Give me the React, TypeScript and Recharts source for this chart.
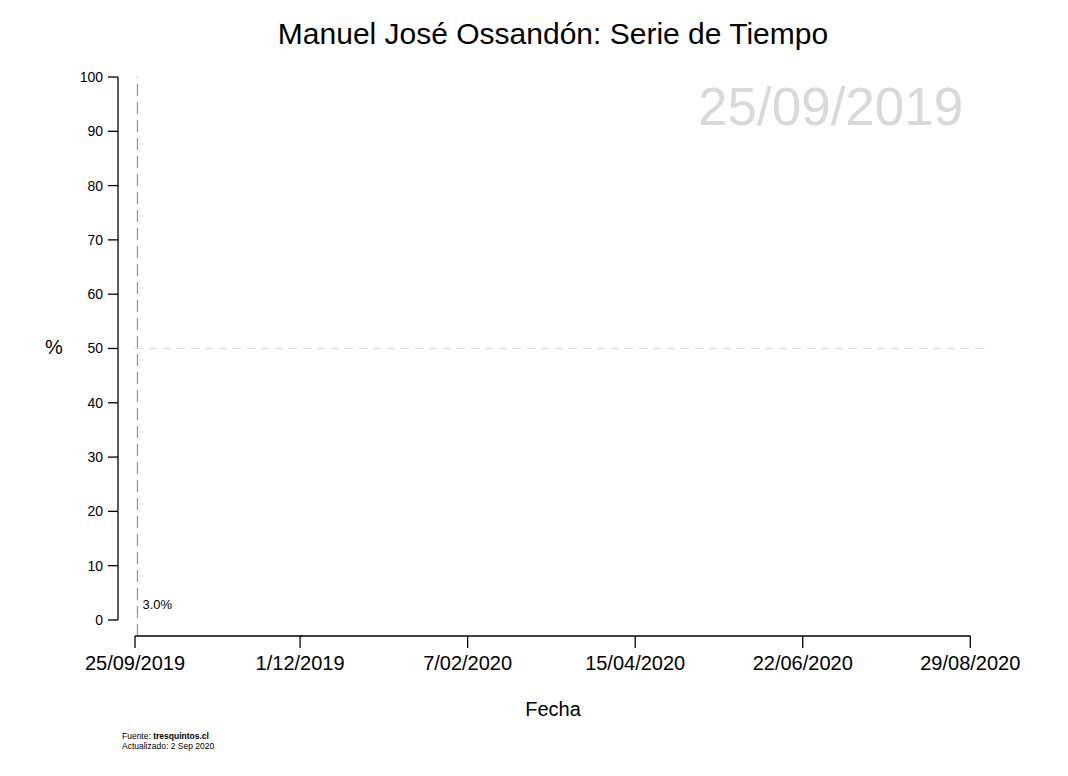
import { LineChart, Line, XAxis, YAxis, ReferenceLine, LabelList } from "recharts"

const dayNumbers = [1]
const pctValues = [3.0]
const xTicks = [0, 67, 135, 203, 271, 339]
const xTickLabels = ["25/09/2019", "1/12/2019", "7/02/2020", "15/04/2020", "22/06/2020", "29/08/2020"]
const yTicks = [0, 10, 20, 30, 40, 50, 60, 70, 80, 90, 100]

const data = dayNumbers.map((d, i) => ({ day: d, pct: pctValues[i] }))

const FONT = "'Liberation Sans', Arial, sans-serif"
const PX_PER_DAY = (990 - 135) / 347
const PX_PER_UNIT = (636 - 77) / 102.95

function XTick({ x, y, index }: any) {
  const last = index === xTicks.length - 1
  return (
    <g>
      {!last && <line x1={x} x2={x + 68 * PX_PER_DAY} y1={y} y2={y} stroke="#000" strokeWidth={1.3} />}
      <line x1={x} x2={x} y1={y} y2={y + 12} stroke="#000" strokeWidth={1.3} />
      <text x={x} y={y + 34} textAnchor="middle" fontSize={20} fontFamily={FONT} fill="#000">
        {xTickLabels[index]}
      </text>
    </g>
  )
}

function YTick({ x, y, payload }: any) {
  const lx = x - 17
  return (
    <g>
      {payload.value < 100 && (
        <line x1={lx} x2={lx} y1={y} y2={y - 10 * PX_PER_UNIT} stroke="#000" strokeWidth={1.3} />
      )}
      <line x1={lx - 10} x2={lx} y1={y} y2={y} stroke="#000" strokeWidth={1.3} />
      <text x={lx - 15} y={y + 5} textAnchor="end" fontSize={14} fontFamily={FONT} fill="#000">
        {payload.value}
      </text>
    </g>
  )
}

export default function App() {
  return (
    <div style={{ margin: -8, width: 1068, height: 776, position: "relative", background: "#fff", fontFamily: FONT }}>
      <div style={{ position: "absolute", left: 0, width: 1106, top: 17, textAlign: "center", fontSize: 30 }}>
        Manuel José Ossandón: Serie de Tiempo
      </div>
      <div style={{ position: "absolute", left: 698, top: 76, fontSize: 53, color: "#d9d9d9" }}>25/09/2019</div>
      <div style={{ position: "absolute", left: 45, top: 336, fontSize: 20 }}>%</div>
      <div style={{ position: "absolute", left: 0, width: 1106, top: 698, textAlign: "center", fontSize: 20 }}>Fecha</div>
      <div style={{ position: "absolute", left: 122, top: 731, fontSize: 8.5, lineHeight: "10px" }}>
        Fuente: <b>tresquintos.cl</b>
        <br />
        Actualizado: 2 Sep 2020
      </div>
      <div style={{ position: "absolute", left: 0, top: 0 }}>
        <LineChart width={1068} height={776} data={data} margin={{ top: 77, right: 78, bottom: 80, left: 95 }}>
          <XAxis
            dataKey="day"
            type="number"
            domain={[0, 347]}
            ticks={xTicks}
            axisLine={false}
            tickLine={false}
            tickSize={0}
            tickMargin={0}
            height={60}
            tick={<XTick />}
            interval={0}
          />
          <YAxis
            type="number"
            domain={[-2.95, 100]}
            ticks={yTicks}
            axisLine={false}
            tickLine={false}
            tickSize={0}
            tickMargin={0}
            width={40}
            tick={<YTick />}
            interval={0}
          />
          <ReferenceLine y={50} stroke="#d8d8d8" strokeDasharray="8 6" strokeWidth={1.2} />
          <ReferenceLine x={1} stroke="#9a9a9a" strokeDasharray="12 6" strokeWidth={1.3} />
          <Line
            dataKey="pct"
            stroke="#000"
            dot={() => <g />}
            activeDot={false}
            isAnimationActive={false}
          >
            <LabelList
              dataKey="pct"
              content={(p: any) => (
                <text x={p.x + 5} y={p.y + 5} fontSize={13} fontFamily={FONT} fill="#000">
                  {Number(p.value).toFixed(1)}%
                </text>
              )}
            />
          </Line>
        </LineChart>
      </div>
    </div>
  )
}
